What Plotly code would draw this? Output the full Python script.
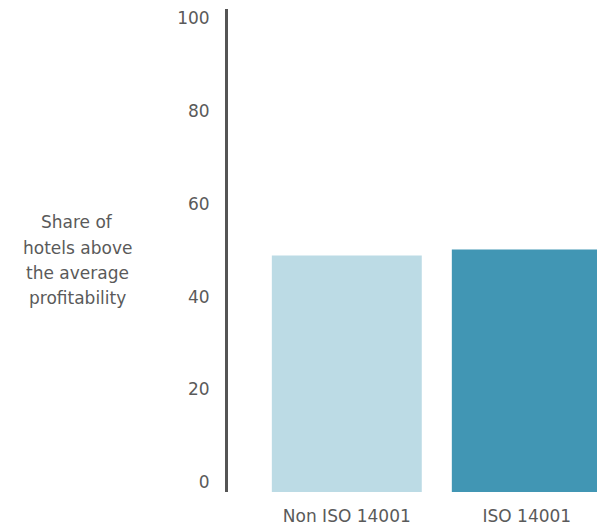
import plotly.graph_objects as go

# Share of hotels above the average profitability, by certification status
categories = ["Non ISO 14001", "ISO 14001"]
share_values = [51, 52.3]
bar_colors = ["#BCDBE5", "#4196B4"]
y_ticks = [0, 20, 40, 60, 80, 100]

text_color = "#5a5a5a"
font_family = "'DejaVu Sans', sans-serif"

fig = go.Figure(
    go.Bar(
        x=categories,
        y=share_values,
        marker=dict(color=bar_colors, line=dict(width=0)),
        hoverinfo="x+y",
    )
)

fig.update_layout(
    width=597,
    height=529,
    margin=dict(l=228, r=0, t=9, b=37),
    paper_bgcolor="white",
    plot_bgcolor="white",
    bargap=0.167,
    showlegend=False,
    font=dict(family=font_family, color=text_color, size=17),
)

fig.update_xaxes(
    type="category",
    range=[-0.66, 1.39],
    showgrid=False,
    zeroline=False,
    showline=False,
    ticks="",
    ticklabelstandoff=12,
    tickfont=dict(size=17, color=text_color),
)

fig.update_yaxes(
    range=[0, 104.2],
    tickvals=y_ticks,
    showgrid=False,
    zeroline=False,
    showline=True,
    linecolor="#555555",
    linewidth=3,
    ticks="",
    ticklabelstandoff=12,
    ticklabelshift=-10,
    tickfont=dict(size=17, color=text_color),
)

# Multi-line axis caption placed left of the tick labels
caption_lines = ["Share of", "hotels above", "the average", "profitability"]
caption_y = [58.3, 52.7, 47.3, 41.9]
for line, yv in zip(caption_lines, caption_y):
    fig.add_annotation(
        text=line,
        xref="paper",
        yref="y",
        x=-0.408,
        y=yv,
        xanchor="center",
        yanchor="middle",
        showarrow=False,
        font=dict(size=17, color=text_color, family=font_family),
    )

fig.write_html("out.html")
